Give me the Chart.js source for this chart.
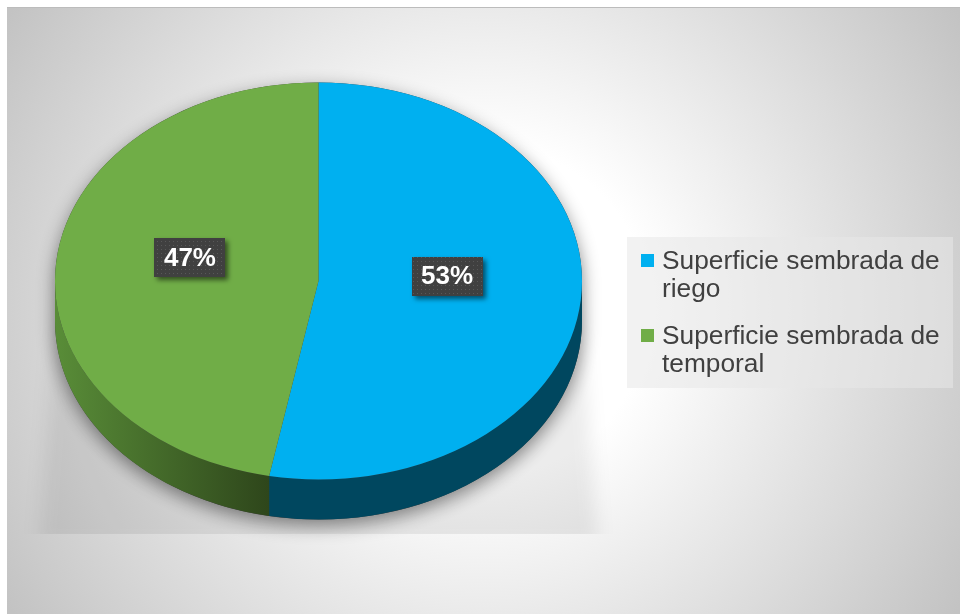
<!DOCTYPE html>
<html lang="es">
<head>
<meta charset="utf-8">
<title>Superficie sembrada</title>
<script src="https://cdn.jsdelivr.net/npm/chart.js@4.4.1/dist/chart.umd.min.js"></script>
<style>
  html, body { margin: 0; padding: 0; width: 960px; height: 614px; overflow: hidden; background: #ffffff; }
  #frame {
    position: absolute; left: 7px; top: 7px; width: 953px; height: 607px;
    box-sizing: border-box; border-top: 1px solid #bcbcbc;
    background: radial-gradient(circle 560px at 477px 303px, #ffffff 0px, #ffffff 165px, #c3c3c3 560px);
  }
  #pie { position: absolute; left: 0; top: 0; }
  #legend {
    position: absolute; left: 627px; top: 237px; width: 326px; height: 151px;
    background: rgba(232, 232, 232, 0.55);
    font-family: "Liberation Sans", Arial, sans-serif; font-size: 26.3px; line-height: 28.5px; color: #404040;
  }
  .item { position: absolute; left: 35px; width: 291px; }
  .swatch { position: absolute; left: -21px; top: 8px; width: 13px; height: 13px; }
</style>
</head>
<body>
<div id="frame"></div>
<canvas id="pie" width="960" height="614"></canvas>
<div id="legend"></div>
<script>
// Shares of sown area (percent)
const categories = ['Superficie sembrada de riego', 'Superficie sembrada de temporal'];
const shares = [53, 47];

// Face and wall colours of the slices
const topColors = ['#00B0F0', '#70AD47'];
const wallColors = [['#00475F', '#00475F'], ['#598D38', '#2E461B']];

// Tilted-disc geometry on screen
const PIE_CY = 281;      // centre of the top face
const TILT = 198.5 / 263.5;
const DEPTH = 40;        // thickness of the disc in pixels

function tiltTransform(ctx, arc) {
  ctx.translate(arc.x, PIE_CY);
  ctx.scale(1, TILT);
  ctx.translate(-arc.x, -arc.y);
}

const tiltedPie = {
  id: 'tiltedPie',
  beforeDatasetsDraw(chart) {
    const ctx = chart.ctx;
    const arcs = chart.getDatasetMeta(0).data;
    if (!arcs.length) return;
    const a0 = arcs[0];
    const r = a0.outerRadius;
    const d = DEPTH / TILT;

    // soft cast shadow behind the disc
    ctx.save();
    ctx.beginPath();
    ctx.rect(0, 0, chart.width, 534);
    ctx.clip();
    ctx.filter = 'blur(9px)';
    ctx.fillStyle = 'rgba(0,0,0,0.075)';
    ctx.beginPath();
    ctx.moveTo(a0.x - r + 6, 250);
    ctx.lineTo(a0.x + r - 6, 250);
    ctx.lineTo(a0.x + r + 16, 545);
    ctx.lineTo(a0.x - r - 16, 545);
    ctx.closePath();
    ctx.fill();
    ctx.filter = 'none';
    ctx.restore();

    ctx.save();
    tiltTransform(ctx, a0);

    // silhouette with drop shadow
    ctx.save();
    ctx.beginPath();
    ctx.arc(a0.x, a0.y, r, Math.PI, 2 * Math.PI);
    ctx.lineTo(a0.x + r, a0.y + d);
    ctx.arc(a0.x, a0.y + d, r, 0, Math.PI);
    ctx.closePath();
    ctx.shadowColor = 'rgba(0,0,0,0.45)';
    ctx.shadowBlur = 18;
    ctx.shadowOffsetX = 0;
    ctx.shadowOffsetY = 6;
    ctx.fillStyle = '#3a3a3a';
    ctx.fill();
    ctx.restore();

    // side walls (front half only)
    arcs.forEach((arc, i) => {
      const s = Math.max(arc.startAngle, 0);
      const e = Math.min(arc.endAngle, Math.PI);
      if (e <= s) return;
      const g = ctx.createLinearGradient(arc.x + r * Math.cos(e), 0, arc.x + r * Math.cos(s), 0);
      g.addColorStop(0, wallColors[i][0]);
      g.addColorStop(1, wallColors[i][1]);
      ctx.beginPath();
      ctx.arc(arc.x, arc.y, r, s, e, false);
      ctx.arc(arc.x, arc.y + d, r, e, s, true);
      ctx.closePath();
      ctx.fillStyle = g;
      ctx.fill();
    });
    // keep the tilt active while the slices are drawn
  },
  afterDatasetsDraw(chart) {
    const ctx = chart.ctx;
    ctx.restore();

    const arcs = chart.getDatasetMeta(0).data;
    const total = shares.reduce((a, b) => a + b, 0);

    // dotted dark fill for the value boxes
    const tile = document.createElement('canvas');
    tile.width = 4; tile.height = 4;
    const t = tile.getContext('2d');
    t.fillStyle = '#404040';
    t.fillRect(0, 0, 4, 4);
    t.fillStyle = '#585858';
    t.fillRect(1, 1, 1, 1);
    const pattern = ctx.createPattern(tile, 'repeat');

    arcs.forEach((arc, i) => {
      const mid = (arc.startAngle + arc.endAngle) / 2;
      const rr = arc.outerRadius * 0.49;
      const x = arc.x + Math.cos(mid) * rr;
      const y = PIE_CY + Math.sin(mid) * rr * TILT - 14;
      const text = Math.round(shares[i] / total * 100) + '%';
      ctx.save();
      ctx.font = 'bold 26px "Liberation Sans", Arial, sans-serif';
      const w = 71, h = 39;
      ctx.shadowColor = 'rgba(0,0,0,0.55)';
      ctx.shadowBlur = 5;
      ctx.shadowOffsetX = 3;
      ctx.shadowOffsetY = 3;
      ctx.fillStyle = pattern;
      ctx.fillRect(Math.round(x - w / 2), Math.round(y - h / 2), w, h);
      ctx.shadowColor = 'transparent';
      ctx.fillStyle = '#ffffff';
      ctx.textAlign = 'center';
      ctx.textBaseline = 'middle';
      ctx.fillText(text, x, y + 1);
      ctx.restore();
    });
  }
};

new Chart(document.getElementById('pie'), {
  type: 'pie',
  data: {
    labels: categories,
    datasets: [{
      data: shares,
      backgroundColor: topColors,
      borderWidth: 0,
      offset: 0,
      hoverOffset: 0
    }]
  },
  options: {
    responsive: false,
    animation: false,
    events: [],
    layout: { padding: { left: 55, right: 378, top: 43, bottom: 44 } },
    plugins: {
      legend: { display: false },
      tooltip: { enabled: false }
    }
  },
  plugins: [tiltedPie]
});

// Legend
const legend = document.getElementById('legend');
const tops = [8.7, 83.7];
categories.forEach((name, i) => {
  const item = document.createElement('div');
  item.className = 'item';
  item.style.top = tops[i] + 'px';
  const sw = document.createElement('span');
  sw.className = 'swatch';
  sw.style.background = topColors[i];
  item.appendChild(sw);
  item.appendChild(document.createTextNode(name));
  legend.appendChild(item);
});
</script>
</body>
</html>
